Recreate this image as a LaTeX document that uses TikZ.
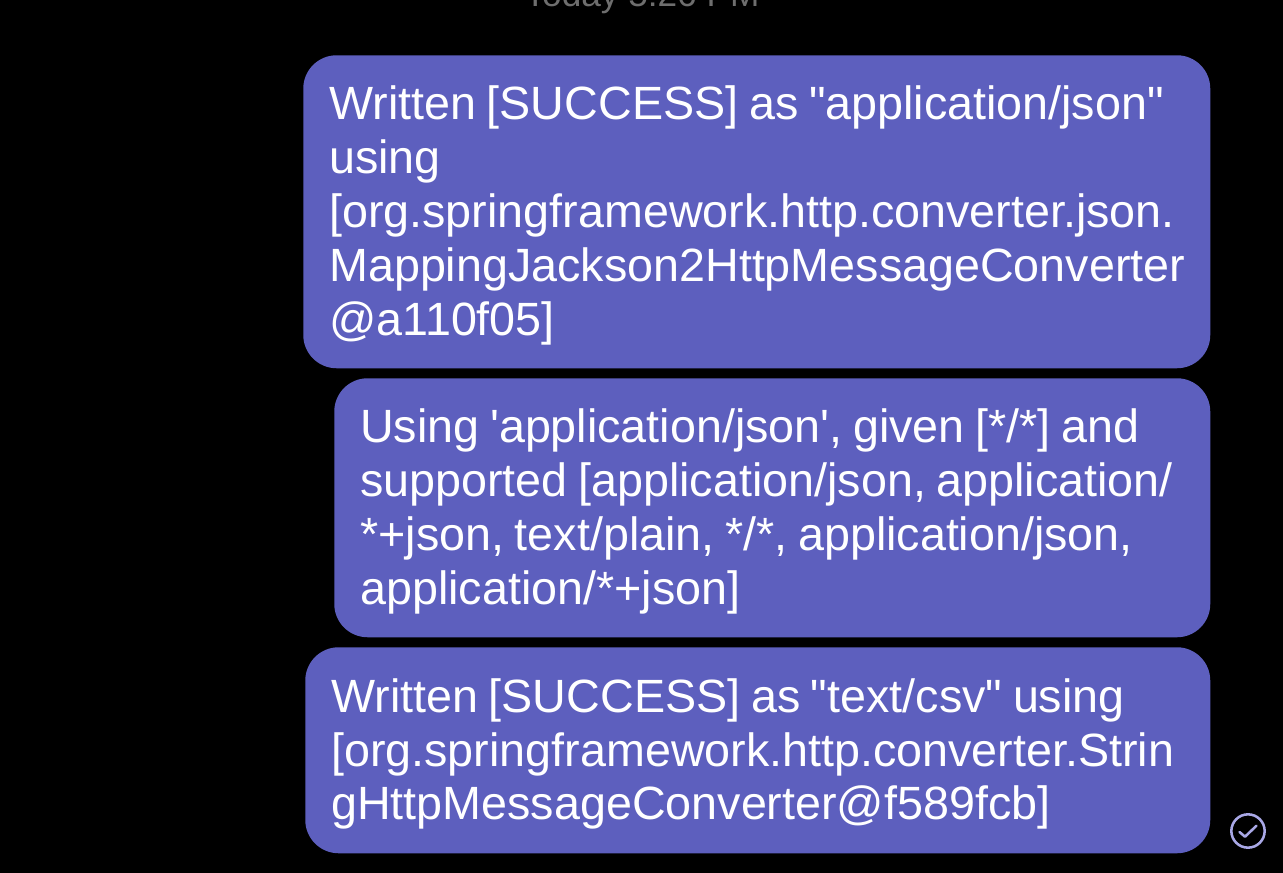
\documentclass[tikz,border=0pt]{standalone}
\usepackage{fontspec}
\setmainfont{Liberation Sans}[Ligatures=TeXOff]
\definecolor{bubblecol}{HTML}{5D5FBE}
\definecolor{tickcol}{HTML}{A9A8E6}
\definecolor{timecol}{HTML}{6E6E6E}
\newcommand{\topgap}{\spaceskip=8pt\relax\rule{0pt}{31pt}}
\begin{document}
\begin{tikzpicture}
[
    x=0.75pt, y=-0.75pt,
    bubble/.style={fill=bubblecol, text=white, rounded corners=25pt, anchor=north west, align=left, inner xsep=19.5pt, inner ysep=0pt, font=\fontsize{35pt}{40.4pt}\selectfont},
]
\clip (0,0) rectangle (1283,873);
\fill[black] (0,0) rectangle (1283,873);
\node[text=timecol, font=\fontsize{26.4pt}{28pt}\selectfont, anchor=base] (time) at (642,7) {Today 5:26 PM};
\node[bubble, text width=641.25pt, minimum height=234.75pt] (first) at (303,55) {\topgap Written [SUCCESS] as "application/json"\\using\\{[}org.springframework.http.converter.json.\\MappingJackson2HttpMessageConverter\\@a110f05]};
\node[bubble, text width=618pt, minimum height=194.25pt] (second) at (334,378) {\topgap Using 'application/json', given [*/*] and\\supported [application/json, application/\\{*}+json, text/plain, */*, application/json,\\application/*+json]};
\node[bubble, text width=639.75pt, minimum height=154.5pt] (third) at (305,647) {\topgap Written [SUCCESS] as "text/csv" using\\{[}org.springframework.http.converter.Strin\\gHttpMessageConverter@f589fcb]};
\node[draw=tickcol, line width=1.9pt, circle, minimum size=25pt, inner sep=0pt] (tick) at (1248,831) {};
\draw[tickcol, line width=1.9pt, line cap=round, line join=round] (1239.5,832) -- (1245,836.7) -- (1256.5,825.7);
\end{tikzpicture}
\end{document}
